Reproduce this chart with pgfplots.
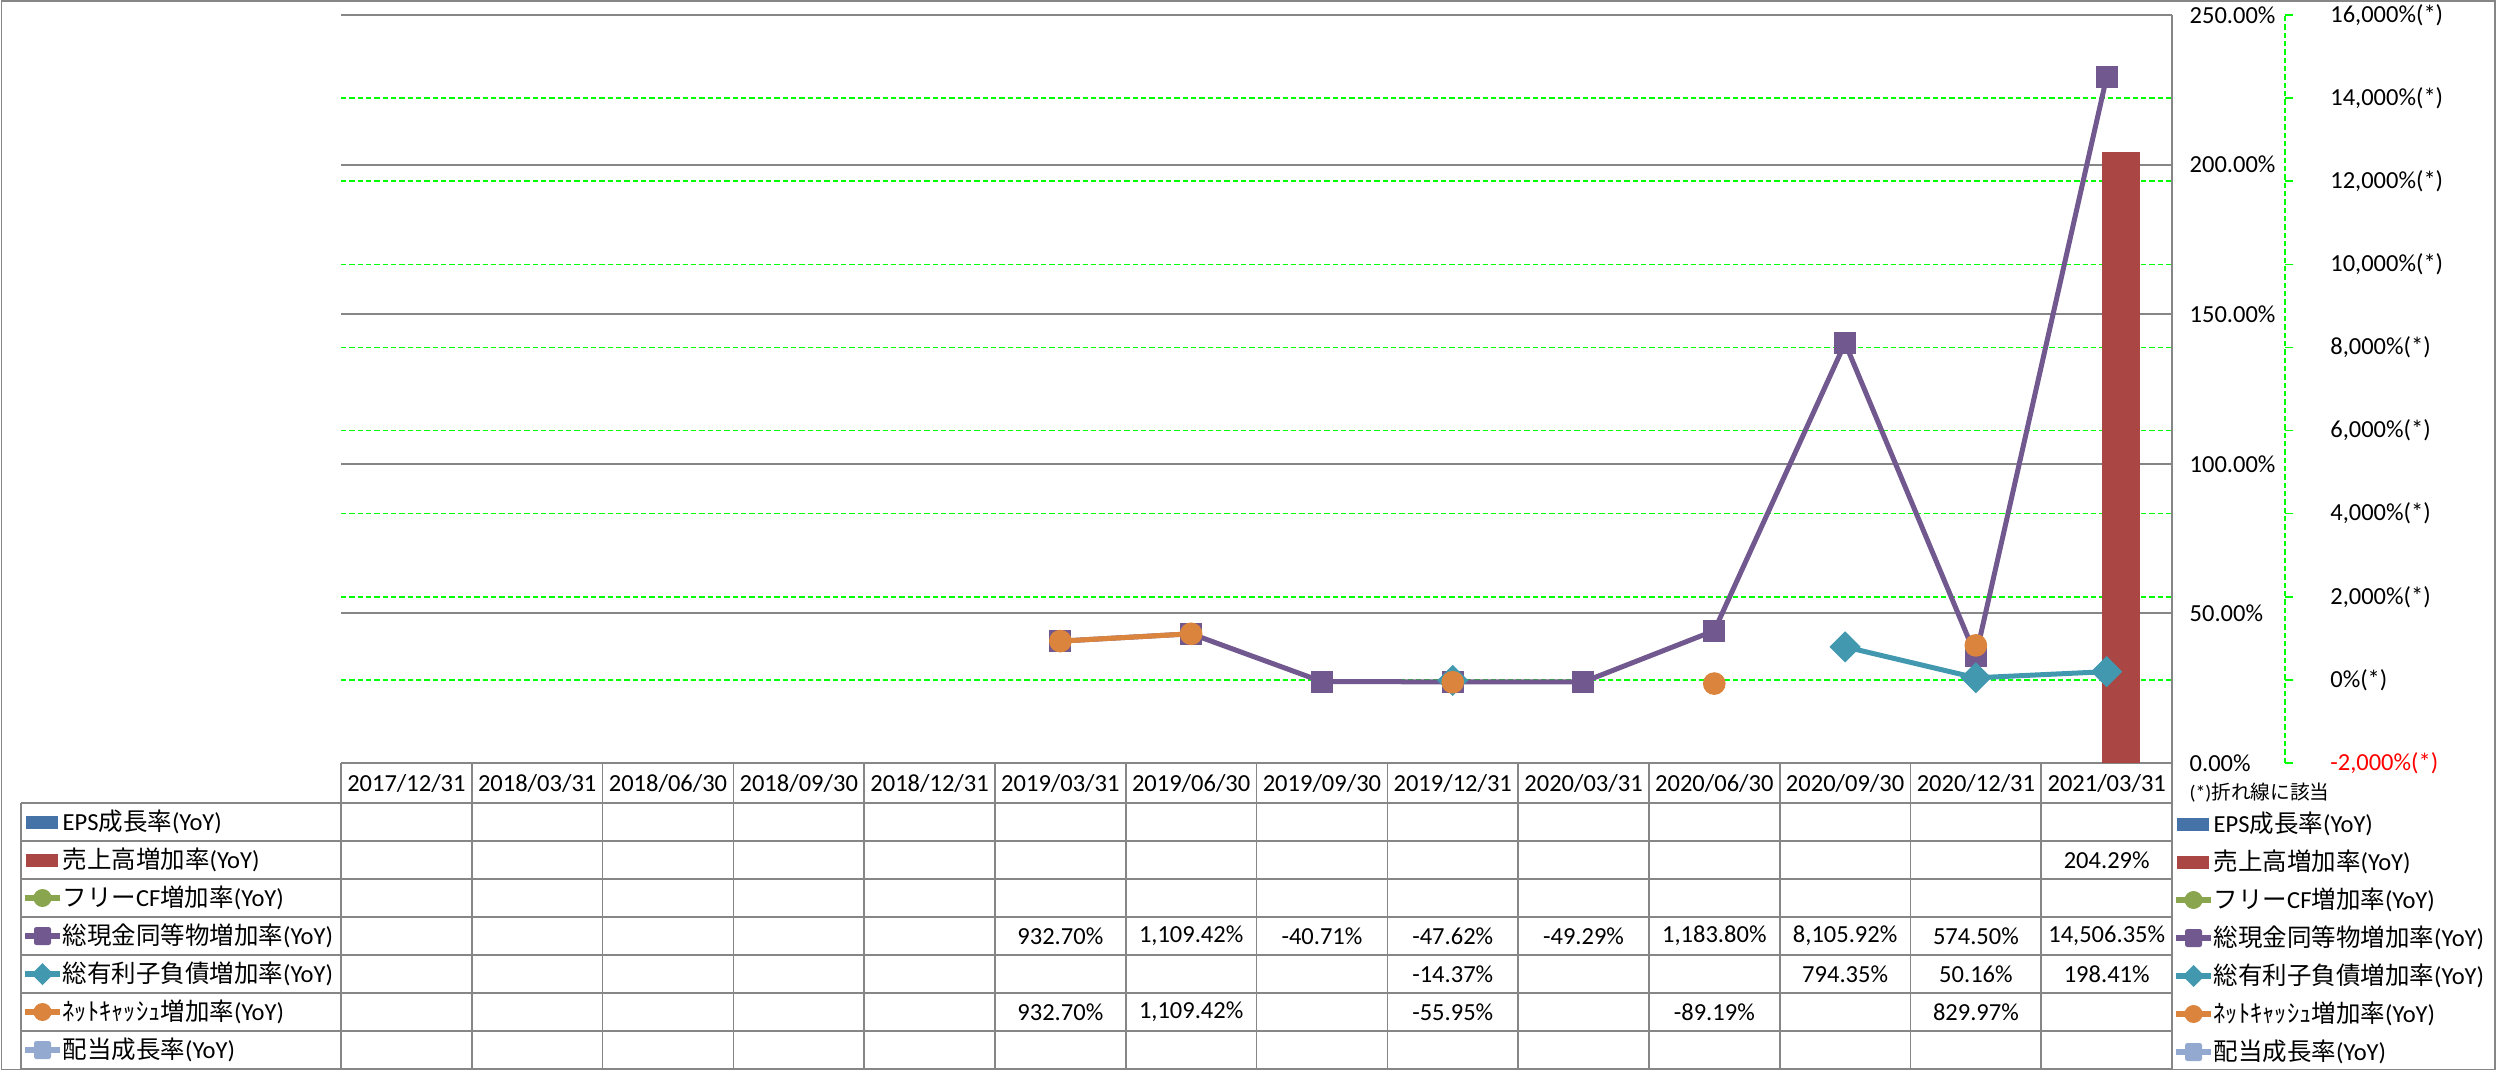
\documentclass[border=0pt]{standalone}
\usepackage{fontspec}
\setmainfont{Carlito}
\newfontfamily\jp{Noto Sans CJK JP}
\usepackage{pgfplots}
\pgfplotsset{compat=1.18}
\definecolor{cEPS}{HTML}{4572A7}
\definecolor{cSales}{HTML}{AA4643}
\definecolor{cFCF}{HTML}{89A54E}
\definecolor{cCash}{HTML}{71588F}
\definecolor{cDebt}{HTML}{4198AF}
\definecolor{cNet}{HTML}{DB843D}
\definecolor{cDiv}{HTML}{93A9CF}
\definecolor{gridgray}{HTML}{868686}
\definecolor{ggreen}{HTML}{00FF00}
\newcommand\f{\fontsize{7.35pt}{8.8pt}\selectfont}
\pgfdeclareplotmark{rsquare}{%
  \pgfsetcornersarced{\pgfpoint{.3\pgfplotmarksize}{.3\pgfplotmarksize}}%
  \pgfpathmoveto{\pgfqpoint{0pt}{-\pgfplotmarksize}}%
  \pgfpathlineto{\pgfqpoint{\pgfplotmarksize}{-\pgfplotmarksize}}%
  \pgfpathlineto{\pgfqpoint{\pgfplotmarksize}{\pgfplotmarksize}}%
  \pgfpathlineto{\pgfqpoint{-\pgfplotmarksize}{\pgfplotmarksize}}%
  \pgfpathlineto{\pgfqpoint{-\pgfplotmarksize}{-\pgfplotmarksize}}%
  \pgfpathclose
  \pgfusepathqfillstroke}
\pgfplotsset{plotarea/.style={at={(102.3pt,92.4pt)}, anchor=south west, scale only axis,
  width=549.3pt, height=224.4pt, xmin=-0.5, xmax=13.5}}
% legend symbols (pixel coordinates, y downward)
\newcommand\legbar[3]{\fill[#1] (#2+1,#3-6.5) rectangle (#2+33,#3+6.5);}
\newcommand\legsq[3]{\draw[#1,line width=1.6pt] (#2,#3) -- (#2+35,#3);
  \fill[#1, rounded corners=0.7pt] (#2+9,#3-9) rectangle (#2+26,#3+9);}
\newcommand\legci[3]{\draw[#1,line width=1.6pt] (#2,#3) -- (#2+35,#3);
  \fill[#1] (#2+17.5,#3) circle[radius=2.7pt];}
\newcommand\legdi[3]{\draw[#1,line width=1.6pt] (#2,#3) -- (#2+35,#3);
  \fill[#1] (#2+17.5,#3-11) -- (#2+28.5,#3) -- (#2+17.5,#3+11) -- (#2+6.5,#3) -- cycle;}
\begin{document}
\begin{tikzpicture}[font=\f]
\useasboundingbox (0,0) rectangle (749.1pt,321.3pt);
% green dashed grid of the secondary axis (behind the bars)
\begin{axis}[plotarea, ymin=-2000, ymax=16000, ytick={-2000,0,...,16000},
  xtick=\empty, yticklabels={}, major tick length=0pt, ymajorgrids,
  grid style={ggreen, dash pattern=on 1.6pt off 0.9pt, line width=0.45pt},
  axis line style={draw=none}]
\end{axis}
% primary axis with bars
\begin{axis}[plotarea, ymin=0, ymax=250, ytick={0,50,...,250},
  yticklabels={0.00\%,50.00\%,100.00\%,150.00\%,200.00\%,250.00\%},
  ymajorgrids, grid style={gridgray, line width=0.6pt},
  axis x line*=bottom, axis y line*=right,
  axis line style={gridgray, line width=0.6pt, -},
  xtick=\empty, major tick length=0pt,
  yticklabel style={anchor=west, inner sep=0pt, xshift=5.1pt, font=\f},
  ybar, bar width=11.4pt, bar shift=4.4pt]
\addplot[fill=cSales, draw=none] coordinates {(13,204.29)};
\end{axis}
% line series on the secondary axis
\begin{axis}[plotarea, ymin=-2000, ymax=16000, hide axis, unbounded coords=jump]
\addplot[cCash, line width=1.5pt, mark=rsquare, mark size=3.1pt,
  mark options={line width=0.4pt, solid}] coordinates {
  (5,932.70) (6,1109.42) (7,-40.71) (8,-47.62) (9,-49.29) (10,1183.80)
  (11,8105.92) (12,574.50) (13,14506.35)};
\addplot[cDebt, line width=1.5pt, mark=square*, mark size=3.1pt,
  mark options={line width=0.4pt, solid, rotate=45}] coordinates {
  (8,-14.37) (9,nan) (10,nan) (11,794.35) (12,50.16) (13,198.41)};
\addplot[cNet, line width=1.5pt, mark=*, mark size=3.2pt,
  mark options={line width=0.4pt, solid}] coordinates {
  (5,932.70) (6,1109.42) (7,nan) (8,-55.95) (9,nan) (10,-89.19) (11,nan) (12,829.97)};
\end{axis}
% secondary axis line and labels
\begin{axis}[at={(684.5pt,92.4pt)}, anchor=south west, scale only axis,
  width=1pt, height=224.4pt, xmin=0, xmax=1, ymin=-2000, ymax=16000,
  ytick={-2000,0,...,16000},
  yticklabels={{\textcolor{red}{-2,000\%(*)}},{0\%(*)},{2,000\%(*)},{4,000\%(*)},
    {6,000\%(*)},{8,000\%(*)},{10,000\%(*)},{12,000\%(*)},{14,000\%(*)},{16,000\%(*)}},
  axis x line=none, axis y line*=right,
  y axis line style={ggreen, dash pattern=on 1.6pt off 0.9pt, line width=0.45pt, -},
  ytick style={ggreen, line width=0.45pt},
  major tick length=2.4pt, tick align=outside,
  yticklabel style={anchor=west, inner sep=0pt, xshift=11pt, font=\f}]
\end{axis}
\begin{scope}[x=0.3pt, y=-0.3pt, yshift=321.3pt]
% outer frame
\draw[gridgray, line width=0.5pt] (1.5,1) rectangle (2495,1069.5);
% table grid
\foreach \yy in {803,841,879,917,955,993,1031,1069}
  \draw[gridgray, line width=0.5pt] (21,\yy) -- (2172,\yy);
\draw[gridgray, line width=0.5pt] (21,803) -- (21,1069);
\foreach \k in {0,...,14}
  \draw[gridgray, line width=0.5pt] ({341+130.79*\k},763) -- ({341+130.79*\k},1069);
% header
\foreach \lab [count=\i from 0] in {2017/12/31,2018/03/31,2018/06/30,2018/09/30,2018/12/31,
  2019/03/31,2019/06/30,2019/09/30,2019/12/31,2020/03/31,2020/06/30,2020/09/30,2020/12/31,2021/03/31}
  \node[inner sep=0pt] at ({341+130.79*(\i+0.5)},784) {\lab};
% values
\newcommand\cell[3]{\node[inner sep=0pt] at ({341+130.79*(#1+0.5)},{822+38*(#2-1)}) {#3};}
\cell{13}{2}{204.29\%}
\cell{5}{4}{932.70\%}\cell{6}{4}{1,109.42\%}\cell{7}{4}{-40.71\%}\cell{8}{4}{-47.62\%}
\cell{9}{4}{-49.29\%}\cell{10}{4}{1,183.80\%}\cell{11}{4}{8,105.92\%}\cell{12}{4}{574.50\%}
\cell{13}{4}{14,506.35\%}
\cell{8}{5}{-14.37\%}\cell{11}{5}{794.35\%}\cell{12}{5}{50.16\%}\cell{13}{5}{198.41\%}
\cell{5}{6}{932.70\%}\cell{6}{6}{1,109.42\%}\cell{8}{6}{-55.95\%}\cell{10}{6}{-89.19\%}
\cell{12}{6}{829.97\%}
% legend inside table (left) and right legend
\newcommand\leglabels[2]{%
  \node[anchor=west, inner sep=0pt] at (#1,#2) {EPS{\jp 成長率}(YoY)};
  \node[anchor=west, inner sep=0pt] at (#1,#2+38) {{\jp 売上高増加率}(YoY)};
  \node[anchor=west, inner sep=0pt] at (#1,#2+76) {{\jp フリー}CF{\jp 増加率}(YoY)};
  \node[anchor=west, inner sep=0pt] at (#1,#2+114) {{\jp 総現金同等物増加率}(YoY)};
  \node[anchor=west, inner sep=0pt] at (#1,#2+152) {{\jp 総有利子負債増加率}(YoY)};
  \node[anchor=west, inner sep=0pt] at (#1,#2+190) {{\jp ﾈｯﾄｷｬｯｼｭ増加率}(YoY)};
  \node[anchor=west, inner sep=0pt] at (#1,#2+228) {{\jp 配当成長率}(YoY)};}
\newcommand\legsyms[2]{%
  \legbar{cEPS}{#1}{#2}
  \legbar{cSales}{#1}{#2+38}
  \legci{cFCF}{#1}{#2+76}
  \legsq{cCash}{#1}{#2+114}
  \legdi{cDebt}{#1}{#2+152}
  \legci{cNet}{#1}{#2+190}
  \legsq{cDiv}{#1}{#2+228}}
\legsyms{25}{822}
\leglabels{62}{822}
\legsyms{2176}{824}
\leglabels{2213}{824}
\node[anchor=west, inner sep=0pt, font=\fontsize{5.9pt}{7pt}\selectfont] at (2189,793) {(*){\jp 折れ線に該当}};
\end{scope}
\end{tikzpicture}
\end{document}
